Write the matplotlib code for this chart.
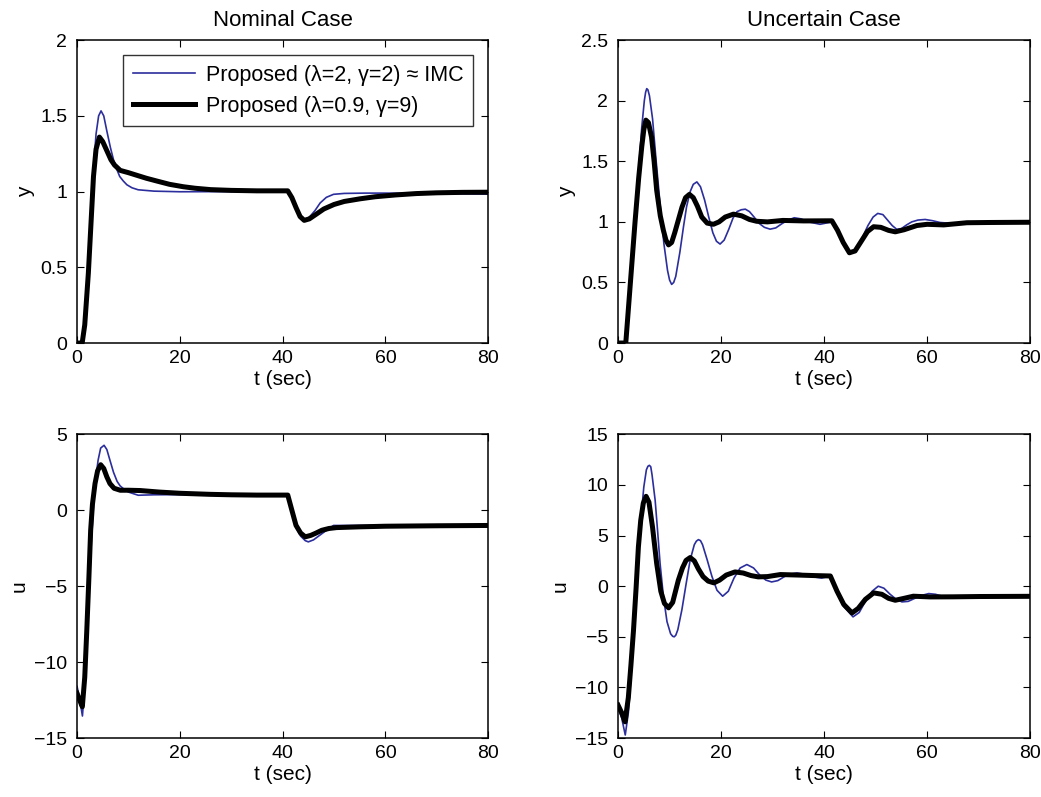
import numpy as np
import matplotlib
matplotlib.use('Agg')
import matplotlib.pyplot as plt

plt.rcParams['font.family'] = ['Liberation Sans', 'DejaVu Sans']

# ---------- data ----------
# Nominal case, output y
t_ny_blue = [0, 1.0, 1.5, 2.2, 2.7, 3.2, 3.7, 4.2, 4.67, 5.2, 5.8, 6.5, 7.1, 7.7, 8.3, 9.0, 9.7, 10.7, 11.9, 15, 20, 30,
             41.0, 41.8, 42.6, 43.4, 44.3, 45.3, 46.3, 47.3, 48.5, 49.9, 52, 56, 60, 70, 80]
ny_blue = [0, 0, 0.12, 0.47, 0.82, 1.15, 1.38, 1.5, 1.533, 1.5, 1.4, 1.29, 1.21, 1.15, 1.1, 1.07, 1.045, 1.025, 1.012,
           1.003, 0.999, 1.0, 1.0, 0.955, 0.89, 0.832, 0.808, 0.835, 0.875, 0.925, 0.962, 0.982, 0.988, 0.99, 0.99,
           0.988, 0.983]
t_ny_black = [0, 1.0, 1.5, 2.2, 2.7, 3.2, 3.7, 4.35, 5.0, 5.8, 6.6, 7.3, 8.4, 10, 11.6, 13.5, 15.5, 18, 20.7, 23, 26,
              30, 35, 41, 41.8, 42.6, 43.4, 44.2, 45.2, 46.5, 48, 50, 52, 55, 58, 62, 66, 70, 75, 80]
ny_black = [0, 0, 0.12, 0.46, 0.78, 1.1, 1.28, 1.36, 1.33, 1.27, 1.21, 1.175, 1.14, 1.125, 1.108, 1.088, 1.07, 1.048,
            1.032, 1.022, 1.013, 1.008, 1.005, 1.005, 0.96, 0.895, 0.835, 0.81, 0.82, 0.85, 0.885, 0.915, 0.935,
            0.952, 0.966, 0.978, 0.987, 0.992, 0.995, 0.996]

# Uncertain case, output y
t_uy_blue = [0, 1.5, 2.4, 3.3, 4.0, 4.6, 5.1, 5.35, 5.57, 5.8, 6.1, 6.7, 7.4, 8.2, 8.9, 9.6, 10.0, 10.4, 10.8, 11.2,
             12.0, 12.7, 13.3, 14.0, 14.6, 15.3, 16.0, 16.8, 17.6, 18.4, 19.1, 19.8, 20.6, 21.5, 22.3, 23.1, 23.9,
             24.7, 25.5, 26.4, 27.3, 28.4, 29.5, 30.6, 31.8, 33, 34.2, 35.5, 37, 39.2, 41.5, 42.6, 43.7, 45.0, 46.2,
             47.4, 48.5, 49.5, 50.4, 51.4, 52.4, 53.2, 54.1, 55, 56, 57, 58.2, 59.6, 61, 62.5, 64, 67, 72, 80]
uy_blue = [0, 0, 0.48, 1.0, 1.42, 1.78, 2.0, 2.07, 2.10, 2.09, 2.04, 1.85, 1.5, 1.125, 0.82, 0.6, 0.52, 0.484, 0.5,
           0.55, 0.75, 0.96, 1.125, 1.25, 1.31, 1.33, 1.29, 1.18, 1.04, 0.91, 0.84, 0.817, 0.85, 0.94, 1.03, 1.085,
           1.1, 1.105, 1.085, 1.04, 0.99, 0.955, 0.94, 0.95, 0.985, 1.015, 1.034, 1.025, 1.0, 0.98, 1.0, 0.92, 0.82,
           0.735, 0.77, 0.87, 0.97, 1.04, 1.07, 1.06, 1.01, 0.97, 0.938, 0.945, 0.975, 1.0, 1.015, 1.02, 1.01,
           0.995, 0.99, 0.99, 0.993, 0.995]
t_uy_black = [0, 1.5, 2.4, 3.3, 4.0, 4.6, 5.0, 5.4, 5.9, 6.5, 7.0, 7.5, 8.2, 8.8, 9.3, 9.8, 10.4, 11.0, 11.7, 12.4,
              13.1, 13.85, 14.6, 15.4, 16.25, 17.3, 18.5, 19.6, 20.8, 22.4, 24.0, 25.5, 26.9, 29, 32, 36, 41.5, 42.6,
              43.7, 44.9, 46.0, 47.2, 48.4, 49.6, 51, 52.5, 53.8, 55.5, 58, 60, 63.2, 67.7, 72, 80]
uy_black = [0, 0, 0.5, 1.0, 1.36, 1.62, 1.76, 1.84, 1.82, 1.7, 1.5, 1.26, 1.05, 0.93, 0.85, 0.81, 0.83, 0.91, 1.015,
            1.12, 1.2, 1.227, 1.2, 1.13, 1.04, 0.99, 0.98, 1.0, 1.04, 1.064, 1.05, 1.02, 1.005, 1.0, 1.012, 1.008,
            1.009, 0.93, 0.83, 0.745, 0.76, 0.84, 0.92, 0.96, 0.955, 0.93, 0.918, 0.935, 0.97, 0.98, 0.975, 0.993,
            0.995, 0.997]

# Nominal case, control u
t_nu_blue = [0, 0.5, 1.05, 1.5, 2.0, 2.4, 2.8, 3.2, 3.6, 4.1, 4.6, 5.26, 5.8, 6.4, 7.1, 7.8, 8.4, 9.0, 10, 11.9, 15,
             20, 30, 41.0, 41.8, 42.6, 43.5, 44.4, 45.0, 46, 47, 48, 49.9, 55, 60, 70, 80]
nu_blue = [-11.6, -12.4, -13.55, -11.5, -8.0, -4.8, -2.0, 0.3, 2.0, 3.3, 4.1, 4.28, 4.0, 3.3, 2.5, 1.9, 1.6, 1.43,
           1.2, 0.99, 1.02, 1.03, 1.0, 1.0, -0.1, -1.1, -1.7, -2.0, -2.08, -1.95, -1.7, -1.45, -1.0, -1.0, -1.0,
           -1.0, -1.0]
t_nu_black = [0, 0.5, 1.03, 1.5, 1.9, 2.3, 2.65, 3.0, 3.5, 4.0, 4.6, 5.2, 5.8, 6.4, 7.2, 8.4, 10, 12.3, 16, 20, 25.9,
              30, 35, 41.0, 41.8, 42.6, 43.5, 44.4, 45.5, 46.5, 47.6, 49, 50.5, 55, 60, 70, 80]
nu_black = [-12.06, -12.5, -12.94, -11.0, -7.9, -4.5, -1.32, 0.4, 1.76, 2.6, 3.0, 2.75, 2.2, 1.76, 1.45, 1.32, 1.32,
            1.3, 1.2, 1.12, 1.05, 1.02, 1.0, 1.0, 0.0, -0.99, -1.5, -1.75, -1.65, -1.5, -1.32, -1.2, -1.14, -1.09,
            -1.05, -1.02, -1.0]

# Uncertain case, control u
t_uu_blue = [0, 0.7, 1.4, 2.0, 2.5, 3.0, 3.5, 4.0, 4.5, 5.0, 5.5, 5.8, 6.08, 6.35, 6.6, 7.2, 7.7, 8.16, 8.8, 9.5,
             10.2, 10.6, 10.9, 11.2, 11.6, 12.4, 13.2, 14.0, 14.8, 15.2, 15.6, 16.0, 16.4, 17.3, 18.2, 19.2, 20.3,
             21.4, 22.5, 23.7, 25.0, 26.3, 27.5, 28.7, 29.8, 31, 32.3, 33.5, 34.7, 36, 37.5, 39.5, 41.2, 42.5, 43.8,
             45.6, 46.8, 48, 49.3, 50.5, 51.6, 52.8, 54, 55.1, 56.3, 57.6, 59, 60.3, 61.6, 63, 66, 70, 80]
uu_blue = [-12.0, -13.0, -14.7, -12.5, -9.0, -5.0, -1.0, 3.5, 7.0, 9.8, 11.5, 11.85, 11.94, 11.8, 11.0, 8.5, 5.3,
           2.24, -1.0, -3.5, -4.7, -4.95, -5.0, -4.85, -4.3, -2.3, 0.2, 2.6, 4.1, 4.45, 4.6, 4.5, 4.1, 2.6, 1.0,
           -0.4, -0.99, -0.5, 0.8, 1.8, 2.14, 1.8, 1.1, 0.6, 0.42, 0.55, 0.95, 1.2, 1.31, 1.2, 0.95, 0.8, 1.0,
           -0.7, -2.0, -3.03, -2.6, -1.5, -0.5, 0.0, -0.2, -0.8, -1.3, -1.55, -1.5, -1.2, -0.9, -0.73, -0.8, -1.0,
           -1.05, -1.02, -1.0]
t_uu_black = [0, 0.7, 1.36, 2.0, 2.5, 3.0, 3.5, 3.95, 4.4, 4.9, 5.44, 6.0, 6.7, 7.5, 8.3, 9.0, 9.8, 10.6, 11.7, 12.5,
              13.2, 14.0, 14.8, 15.6, 16.5, 17.5, 18.6, 19.7, 21.0, 22.7, 24.3, 25.8, 27.2, 29, 31.5, 35, 38, 41.2,
              42.5, 43.8, 45.4, 46.6, 48.0, 49.6, 51.2, 52.5, 53.8, 55.5, 57.3, 60.6, 65, 70, 80]
uu_black = [-11.75, -12.5, -13.4, -11.0, -7.8, -4.35, -0.2, 3.88, 6.5, 8.2, 8.88, 8.3, 5.8, 2.24, -0.5, -1.7, -2.14,
            -1.6, 0.59, 1.8, 2.55, 2.83, 2.5, 1.7, 0.95, 0.5, 0.33, 0.6, 1.1, 1.41, 1.3, 1.05, 0.92, 0.95, 1.15, 1.1,
            1.05, 1.01, -0.5, -1.8, -2.64, -2.2, -1.3, -0.66, -0.8, -1.2, -1.39, -1.2, -0.99, -1.06, -1.05, -1.02,
            -1.0]

label_blue = 'Proposed (λ=2, γ=2) ≈ IMC'
label_black = 'Proposed (λ=0.9, γ=9)'
blue = '#2b2e9c'

fig = plt.figure(figsize=(10.41, 7.97), dpi=100)
ax_ny = fig.add_axes([0.074, 0.5696, 0.395, 0.380])
ax_uy = fig.add_axes([0.5937, 0.5696, 0.396, 0.380])
ax_nu = fig.add_axes([0.074, 0.074, 0.395, 0.381])
ax_uu = fig.add_axes([0.5937, 0.074, 0.396, 0.381])

panels = [
    (ax_ny, t_ny_blue, ny_blue, t_ny_black, ny_black, (0, 2), [0, 0.5, 1, 1.5, 2], 'y'),
    (ax_uy, t_uy_blue, uy_blue, t_uy_black, uy_black, (0, 2.5), [0, 0.5, 1, 1.5, 2, 2.5], 'y'),
    (ax_nu, t_nu_blue, nu_blue, t_nu_black, nu_black, (-15, 5), [-15, -10, -5, 0, 5], 'u'),
    (ax_uu, t_uu_blue, uu_blue, t_uu_black, uu_black, (-15, 15), [-15, -10, -5, 0, 5, 10, 15], 'u'),
]

for ax, tb, yb, tk, yk, ylim, yticks, ylab in panels:
    ax.plot(tb, yb, color=blue, lw=1.2, label=label_blue)
    ax.plot(tk, yk, color='black', lw=3.6, label=label_black)
    ax.set_xlim(0, 80)
    ax.set_ylim(*ylim)
    ax.set_xticks([0, 20, 40, 60, 80])
    ax.set_yticks(yticks)
    ax.set_yticklabels([f'{v:g}'.replace('-', '\u2212') for v in yticks])
    ax.tick_params(direction='in', top=True, right=True, length=5, width=0.8, labelsize=14, pad=5)
    ax.tick_params(axis='y', pad=7)
    for s in ax.spines.values():
        s.set_linewidth(1.1)
    ax.set_xlabel('t (sec)', fontsize=15, labelpad=2)
    ax.set_ylabel(ylab, fontsize=15, labelpad=4)

ax_ny.set_title('Nominal Case', fontsize=16, pad=10)
ax_uy.set_title('Uncertain Case', fontsize=16, pad=10)

leg = ax_ny.legend(loc='upper right', fontsize=15.5, handlelength=2.9, frameon=True, fancybox=False,
                   borderpad=0.45, labelspacing=0.45, handletextpad=0.5, borderaxespad=0.7)
leg.get_frame().set_edgecolor('black')
leg.get_frame().set_linewidth(1.0)

plt.savefig('out.png', dpi=100)
